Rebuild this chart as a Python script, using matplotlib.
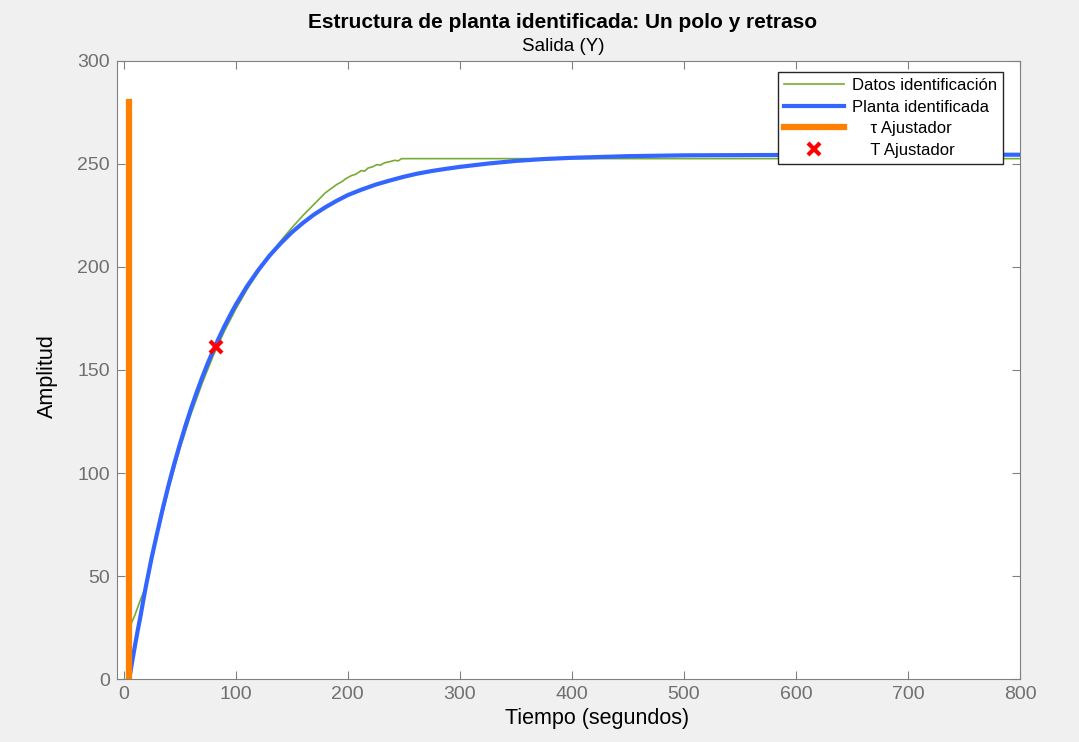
import numpy as np
import matplotlib.pyplot as plt

# Respuesta medida (datos de identificación)
t_datos = [4, 6, 10, 15, 20, 30, 40, 50, 60, 70, 80, 90, 100, 110, 120, 130,
           140, 150, 160, 170, 180, 190, 195, 198, 203, 207, 212, 215, 218,
           222, 226, 229, 233, 238, 242, 245, 248, 251, 800]
y_datos = [22, 26, 31, 38.5, 45, 70, 92, 111.5, 128.5, 143.5, 157, 169, 179.5,
           189, 197.5, 205.5, 212.5, 219, 225, 230.5, 236, 240, 241.5, 242.8,
           244.3, 245, 246.8, 246.5, 248, 248.6, 249.7, 249.4, 250.6, 251.2,
           251.8, 251.5, 252.6, 252.6, 252.6]

# Respuesta de la planta identificada (un polo y retraso)
t_planta = [4, 5, 7.5, 10, 12.5, 15, 17.5, 20, 25, 30, 35, 40, 45, 50, 55, 60,
            65, 70, 75, 80, 85, 90, 95, 100, 110, 120, 130, 140, 150, 160,
            170, 180, 190, 200, 212, 225, 237, 250, 262, 275, 287, 300, 325,
            350, 375, 400, 450, 500, 600, 700, 800]
y_planta = [0, 0, 8.2, 16, 23.5, 30.5, 38.2, 45.5, 59, 71.2, 83, 94, 104.2,
            113.7, 122.7, 131.1, 138.9, 146.3, 153.2, 159.6, 165.6, 171.3,
            176.6, 181.6, 190.6, 198.4, 205.4, 211.4, 216.8, 221.4, 225.5,
            229, 232.1, 234.9, 237.5, 240, 241.9, 243.8, 245.3, 246.6, 247.6,
            248.6, 250.2, 251.5, 252.4, 253, 253.8, 254.2, 254.4, 254.5, 254.5]

# Ajustadores
tau_t = 5
tau_y = [0, 280]
T_t = 82
T_y = 161

plt.rcParams['font.family'] = ['Liberation Sans', 'DejaVu Sans']

fig = plt.figure(figsize=(10.79, 7.42), dpi=100, facecolor='#f0f0f0')
ax = fig.add_axes([0.1084, 0.0849, 0.8369, 0.8329])

ax.plot(t_datos, y_datos, color='#77ac30', lw=1.2, label='Datos identificación')
ax.plot(t_planta, y_planta, color='#3366ff', lw=3, label='Planta identificada')
ax.plot([tau_t, tau_t], tau_y, color='#ff8000', lw=4.5, label='    τ Ajustador')
ax.plot(T_t, T_y, 'x', color='#ff0000', ms=9, mew=3, label='    T Ajustador')

ax.set_xlim(-6, 800)
ax.set_ylim(0, 300)
ax.set_xticks(np.arange(0, 801, 100))
ax.set_yticks(np.arange(0, 301, 50))
ax.tick_params(direction='in', length=6, top=True, right=True,
               labelsize=14, labelcolor='#707070', color='#808080', pad=5)
for s in ax.spines.values():
    s.set_color('#808080')

leg = ax.legend(loc='upper right', bbox_to_anchor=(0.981, 0.982), fontsize=12,
                fancybox=False, framealpha=1, edgecolor='#262626',
                borderpad=0.35, labelspacing=0.4, handlelength=3.6,
                handletextpad=0.5, borderaxespad=0)
leg.get_frame().set_linewidth(1.0)

fig.text(0.521, 0.97, 'Estructura de planta identificada: Un polo y retraso',
         ha='center', va='center', fontsize=15, fontweight='bold')
fig.text(0.522, 0.938, 'Salida (Y)', ha='center', va='center', fontsize=13.5)
fig.text(0.044, 0.493, 'Amplitud', rotation=90, ha='center', va='center', fontsize=15.5)
fig.text(0.553, 0.032, 'Tiempo (segundos)', ha='center', va='center', fontsize=15.5)

fig.savefig('out.png', dpi=100, facecolor=fig.get_facecolor())
